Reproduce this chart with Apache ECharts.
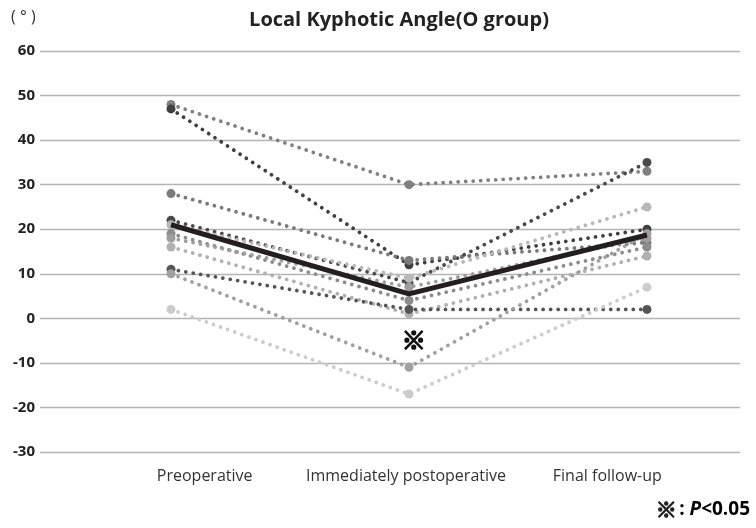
<!DOCTYPE html>
<html>
<head>
<meta charset="utf-8">
<script src="https://cdn.jsdelivr.net/npm/echarts@6/dist/echarts.min.js"></script>
<style>html,body{margin:0;padding:0;background:#fff}#c{width:756px;height:528px}</style>
</head>
<body>
<div id="c"></div>
<script>
var categories = ['Preoperative', 'Immediately postoperative', 'Final follow-up'];
var yTicks = [-30, -20, -10, 0, 10, 20, 30, 40, 50, 60];
var patients = [
  [48, 30, 33],
  [47, 12, 20],
  [28, 13, 17],
  [22, 8, 35],
  [21, 9, 25],
  [19, 4, 16],
  [18, 7, 18],
  [16, 1, 14],
  [11, 2, 2],
  [10, -11, 19],
  [2, -17, 7]
];
var patientColors = ['#808080', '#404040', '#7a7a7a', '#4a4a4a', '#b8b8b8', '#8c8c8c', '#9e9e9e', '#b0b0b0', '#555555', '#a0a0a0', '#cccccc'];
var meanValues = [21, 5.5, 18.7];
var sigMark = { category: 1, value: -4.8, text: '※' };

var FONT = 'Open Sans';
var CJK = 'Noto Sans CJK JP';
var series = [];
patients.forEach(function (vals, i) {
  series.push({
    type: 'line',
    xAxisIndex: 0, yAxisIndex: 0,
    data: vals.map(function (v, k) { return [k, v]; }),
    symbol: 'circle', symbolSize: 9,
    itemStyle: { color: patientColors[i] },
    lineStyle: { color: patientColors[i], width: 3.8, type: [0.01, 7.5], cap: 'round' },
    z: 2, silent: true, animation: false
  });
});
series.push({
  type: 'line',
  xAxisIndex: 0, yAxisIndex: 0,
  data: meanValues.map(function (v, k) { return [k, v]; }),
  symbol: 'none',
  lineStyle: { color: '#231f20', width: 5 },
  z: 5, silent: true, animation: false,
  markPoint: {
    symbol: 'circle', symbolSize: 1,
    itemStyle: { color: 'rgba(0,0,0,0)' },
    label: { show: true, position: 'inside', formatter: sigMark.text, color: '#111', fontSize: 24, fontWeight: 'bold', fontFamily: CJK, textBorderColor: '#111', textBorderWidth: 1.6 },
    data: [{ coord: [sigMark.category + 0.02, sigMark.value] }]
  }
});

var chart = echarts.init(document.getElementById('c'), null, { renderer: 'canvas' });
chart.setOption({
  animation: false,
  backgroundColor: '#fff',
  title: {
    text: 'Local Kyphotic Angle(O group)',
    left: 394, top: 5, textAlign: 'center',
    textStyle: { fontFamily: FONT, fontSize: 20, fontWeight: 'bold', color: '#222' }
  },
  grid: [
    { left: 40, right: 16, top: 51, bottom: 76 },
    { left: 104, right: 48, top: 51, bottom: 76 }
  ],
  xAxis: [
    { gridIndex: 0, type: 'value', min: -0.5504, max: 2.3908, show: false },
    { gridIndex: 1, type: 'category', data: categories, boundaryGap: true,
      axisLine: { show: false }, axisTick: { show: false }, splitLine: { show: false },
      axisLabel: { interval: 0, margin: 16, fontFamily: FONT, fontSize: 16, color: '#333' } }
  ],
  yAxis: [
    { gridIndex: 0, type: 'value', min: yTicks[0], max: yTicks[yTicks.length - 1], interval: 10,
      axisLine: { show: false }, axisTick: { show: false },
      splitLine: { lineStyle: { color: '#b4b4b4', width: 1.3 } },
      axisLabel: { margin: 5, fontFamily: FONT, fontSize: 15, fontWeight: 'bold', color: '#222' } },
    { gridIndex: 1, type: 'value', min: yTicks[0], max: yTicks[yTicks.length - 1], show: false }
  ],
  graphic: [
    { type: 'text', left: 11, top: 9, style: { text: '( \u00B0 )', fontFamily: FONT, fontSize: 16, fill: '#333' } },
    { type: 'text', left: 655, top: 498, style: { text: '※', fontFamily: CJK, fontSize: 21, fontWeight: 'bold', fill: '#222', stroke: '#222', lineWidth: 1.3 } },
    { type: 'text', right: 6, top: 500, style: {
        text: '{b|: }{i|P}{b|<0.05}',
        rich: {
          b: { fontFamily: FONT, fontSize: 19, fontWeight: 'bold', color: '#222' },
          i: { fontFamily: FONT, fontSize: 19, fontWeight: 'bold', fontStyle: 'italic', color: '#222' }
        } } }
  ],
  series: series
});
</script>
</body>
</html>
